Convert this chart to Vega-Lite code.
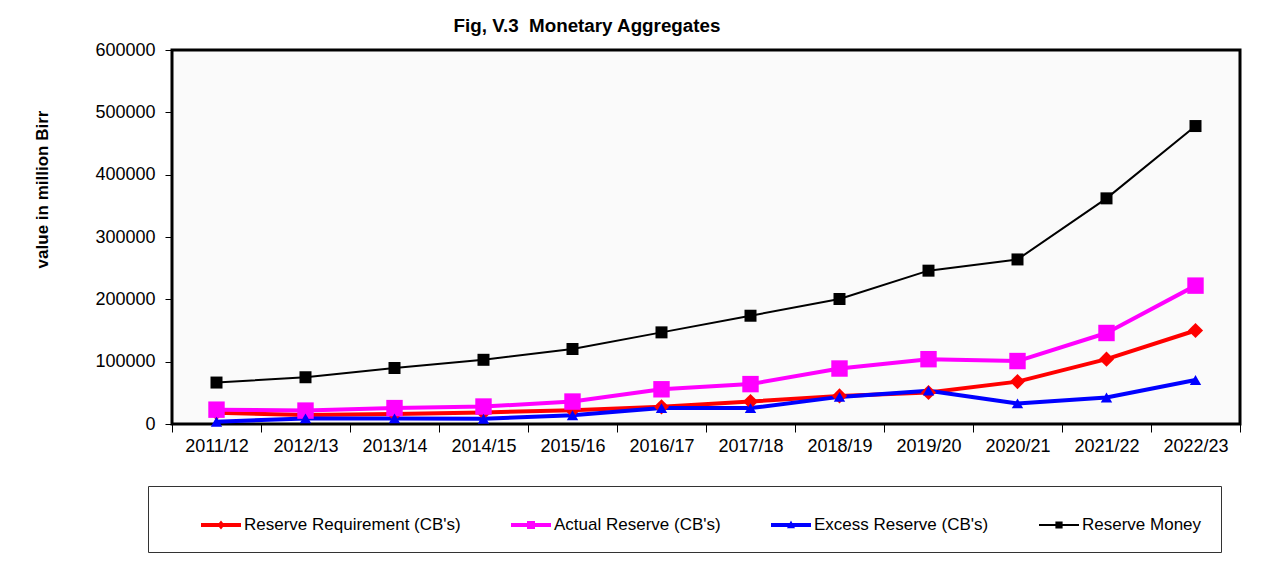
{
  "$schema": "https://vega.github.io/schema/vega-lite/v6.json",
  "width": 1068,
  "height": 374,
  "autosize": {"type": "none"},
  "padding": {"left": 172, "top": 50, "right": 45, "bottom": 164},
  "background": "#ffffff",
  "title": {"text": "Fig, V.3\u00a0 Monetary Aggregates", "font": "Liberation Sans", "fontSize": 18.8, "fontWeight": "bold", "anchor": "middle", "dx": -119, "offset": 5, "color": "#000000"},
  "config": {
    "font": "Liberation Sans",
    "view": {"stroke": "#000000", "strokeWidth": 3, "fill": "#fafafa"}
  },
  "data": {"values": [
    {"year": "2011/12", "series": "Reserve Requirement (CB's)", "value": 18000},
    {"year": "2012/13", "series": "Reserve Requirement (CB's)", "value": 14500},
    {"year": "2013/14", "series": "Reserve Requirement (CB's)", "value": 16000},
    {"year": "2014/15", "series": "Reserve Requirement (CB's)", "value": 18500},
    {"year": "2015/16", "series": "Reserve Requirement (CB's)", "value": 22000},
    {"year": "2016/17", "series": "Reserve Requirement (CB's)", "value": 27500},
    {"year": "2017/18", "series": "Reserve Requirement (CB's)", "value": 36000},
    {"year": "2018/19", "series": "Reserve Requirement (CB's)", "value": 45000},
    {"year": "2019/20", "series": "Reserve Requirement (CB's)", "value": 50500},
    {"year": "2020/21", "series": "Reserve Requirement (CB's)", "value": 68000},
    {"year": "2021/22", "series": "Reserve Requirement (CB's)", "value": 104000},
    {"year": "2022/23", "series": "Reserve Requirement (CB's)", "value": 150000},
    {"year": "2011/12", "series": "Actual Reserve (CB's)", "value": 23000},
    {"year": "2012/13", "series": "Actual Reserve (CB's)", "value": 21500},
    {"year": "2013/14", "series": "Actual Reserve (CB's)", "value": 25500},
    {"year": "2014/15", "series": "Actual Reserve (CB's)", "value": 28000},
    {"year": "2015/16", "series": "Actual Reserve (CB's)", "value": 36000},
    {"year": "2016/17", "series": "Actual Reserve (CB's)", "value": 55700},
    {"year": "2017/18", "series": "Actual Reserve (CB's)", "value": 64000},
    {"year": "2018/19", "series": "Actual Reserve (CB's)", "value": 89000},
    {"year": "2019/20", "series": "Actual Reserve (CB's)", "value": 104000},
    {"year": "2020/21", "series": "Actual Reserve (CB's)", "value": 101000},
    {"year": "2021/22", "series": "Actual Reserve (CB's)", "value": 146000},
    {"year": "2022/23", "series": "Actual Reserve (CB's)", "value": 222000},
    {"year": "2011/12", "series": "Excess Reserve (CB's)", "value": 3700},
    {"year": "2012/13", "series": "Excess Reserve (CB's)", "value": 9000},
    {"year": "2013/14", "series": "Excess Reserve (CB's)", "value": 9000},
    {"year": "2014/15", "series": "Excess Reserve (CB's)", "value": 8500},
    {"year": "2015/16", "series": "Excess Reserve (CB's)", "value": 14000},
    {"year": "2016/17", "series": "Excess Reserve (CB's)", "value": 25500},
    {"year": "2017/18", "series": "Excess Reserve (CB's)", "value": 25500},
    {"year": "2018/19", "series": "Excess Reserve (CB's)", "value": 43500},
    {"year": "2019/20", "series": "Excess Reserve (CB's)", "value": 53500},
    {"year": "2020/21", "series": "Excess Reserve (CB's)", "value": 33000},
    {"year": "2021/22", "series": "Excess Reserve (CB's)", "value": 42500},
    {"year": "2022/23", "series": "Excess Reserve (CB's)", "value": 70500},
    {"year": "2011/12", "series": "Reserve Money", "value": 66500},
    {"year": "2012/13", "series": "Reserve Money", "value": 75000},
    {"year": "2013/14", "series": "Reserve Money", "value": 89800},
    {"year": "2014/15", "series": "Reserve Money", "value": 103000},
    {"year": "2015/16", "series": "Reserve Money", "value": 120300},
    {"year": "2016/17", "series": "Reserve Money", "value": 147000},
    {"year": "2017/18", "series": "Reserve Money", "value": 173700},
    {"year": "2018/19", "series": "Reserve Money", "value": 200500},
    {"year": "2019/20", "series": "Reserve Money", "value": 246000},
    {"year": "2020/21", "series": "Reserve Money", "value": 264000},
    {"year": "2021/22", "series": "Reserve Money", "value": 362000},
    {"year": "2022/23", "series": "Reserve Money", "value": 478000}
  ]},
  "encoding": {
    "x": {
      "field": "year", "type": "ordinal", "sort": null,
      "scale": {"type": "band", "paddingInner": 0, "paddingOuter": 0},
      "axis": {"title": null, "labelAngle": 0, "labelFont": "Liberation Sans", "labelFontSize": 18, "labelColor": "#000000", "tickBand": "extent", "domain": false, "grid": false, "tickColor": "#000000", "tickSize": 8, "labelPadding": 5}
    },
    "y": {
      "field": "value", "type": "quantitative",
      "scale": {"domain": [0, 600000], "nice": false},
      "axis": {"title": "value in million Birr", "titleFont": "Liberation Sans", "titleFontSize": 17, "titleFontWeight": "bold", "titleColor": "#000000", "titleX": -121, "titleY": 139, "values": [0, 100000, 200000, 300000, 400000, 500000, 600000], "format": "d", "labelFont": "Liberation Sans", "labelFontSize": 18, "labelColor": "#000000", "grid": false, "domain": false, "tickColor": "#000000", "tickSize": 7, "labelPadding": 10}
    },
    "color": {
      "field": "series", "type": "nominal",
      "scale": {"domain": ["Reserve Requirement (CB's)", "Actual Reserve (CB's)", "Excess Reserve (CB's)", "Reserve Money"], "range": ["#ff0000", "#ff00ff", "#0000ff", "#000000"]},
      "legend": {
        "orient": "none", "legendX": -24, "legendY": 436, "direction": "horizontal", "columns": 4,
        "title": "\u00a0", "titleOrient": "left", "titleFontSize": 17, "titlePadding": 34,
        "labelFont": "Liberation Sans", "labelFontSize": 17, "labelColor": "#000000", "labelLimit": 400,
        "labelExpr": "datum.index === 3 ? datum.label + '\u2003\u2003' : datum.label",
        "strokeColor": "#333333", "fillColor": "#ffffff", "padding": 19, "columnPadding": 50,
        "symbolSize": 1600, "symbolType": "M-1,-0.1H1V0.1H-1Z M-0.2,-0.2H0.2V0.2H-0.2Z", "symbolStrokeWidth": 0, "symbolOpacity": 1, "labelOffset": 3,
        "encode": {"symbols": {"update": {
          "fill": {"scale": "color", "field": "value"},
          "strokeWidth": {"value": 0},
          "shape": {"signal": "datum.index === 0 ? 'M-1,-0.1H1V0.1H-1Z M0,-0.22L0.18,0L0,0.22L-0.18,0Z' : datum.index === 1 ? 'M-1,-0.1H1V0.1H-1Z M-0.2,-0.2H0.2V0.2H-0.2Z' : datum.index === 2 ? 'M-1,-0.1H1V0.1H-1Z M0,-0.22L0.2,0.16H-0.2Z' : 'M-1,-0.05H1V0.05H-1Z M-0.18,-0.18H0.18V0.18H-0.18Z'"}
        }}}
      }
    }
  },
  "layer": [
    {
      "transform": [{"filter": "datum.series !== 'Reserve Money'"}],
      "mark": {"type": "line", "strokeJoin": "round", "strokeWidth": 4}
    },
    {
      "transform": [{"filter": "datum.series === 'Reserve Money'"}],
      "mark": {"type": "line", "strokeJoin": "round", "strokeWidth": 2}
    },
    {
      "transform": [{"filter": "datum.series === 'Reserve Requirement (CB\\'s)'"}],
      "mark": {"type": "point", "shape": "diamond", "size": 230, "filled": true, "opacity": 1}
    },
    {
      "transform": [{"filter": "datum.series === 'Actual Reserve (CB\\'s)'"}],
      "mark": {"type": "point", "shape": "square", "size": 270, "filled": true, "opacity": 1}
    },
    {
      "transform": [{"filter": "datum.series === 'Excess Reserve (CB\\'s)'"}],
      "mark": {"type": "point", "shape": "triangle-up", "size": 130, "filled": true, "opacity": 1}
    },
    {
      "transform": [{"filter": "datum.series === 'Reserve Money'"}],
      "mark": {"type": "point", "shape": "square", "size": 144, "filled": true, "opacity": 1}
    }
  ]
}
